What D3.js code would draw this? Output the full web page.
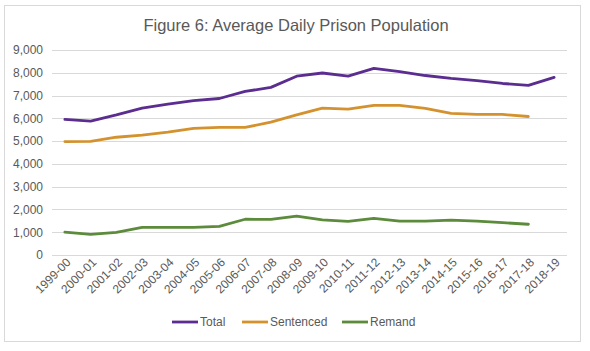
<!DOCTYPE html>
<html>
<head>
<meta charset="utf-8">
<script src="https://cdn.jsdelivr.net/npm/d3@7"></script>
<style>
  body { margin: 0; background: #fff; }
  text { font-family: "Liberation Sans", Arial, sans-serif; fill: #595959; }
</style>
</head>
<body>
<div id="chart"></div>
<script>
// financial years on the x axis
var years = ["1999-00","2000-01","2001-02","2002-03","2003-04","2004-05","2005-06","2006-07","2007-08","2008-09",
             "2009-10","2010-11","2011-12","2012-13","2013-14","2014-15","2015-16","2016-17","2017-18","2018-19"];

// average daily population
var total     = [5950,5880,6150,6450,6620,6780,6870,7180,7360,7850,7990,7850,8190,8050,7880,7750,7660,7530,7450,7800];
var sentenced = [4980,4990,5170,5260,5390,5560,5600,5600,5830,6150,6450,6400,6570,6570,6440,6220,6170,6170,6080];
var remand    = [1000,910,990,1210,1210,1210,1260,1570,1560,1710,1540,1480,1610,1490,1490,1530,1490,1420,1350];

var yTicks = [0,1000,2000,3000,4000,5000,6000,7000,8000,9000];

var series = [
  {name: "Total", values: total, color: "#5b2d90"},
  {name: "Sentenced", values: sentenced, color: "#d4922f"},
  {name: "Remand", values: remand, color: "#5b8b3b"}
];

var W = 590, H = 351;
var margin = {top: 50, right: 23, bottom: 96, left: 52};
var width = W - margin.left - margin.right,
    height = H - margin.top - margin.bottom;

var svg = d3.select("#chart").append("svg")
  .attr("width", W)
  .attr("height", H);

// outer chart border
svg.append("rect")
  .attr("x", 4.5).attr("y", 5.5)
  .attr("width", 576).attr("height", 336)
  .attr("fill", "#fff")
  .attr("stroke", "#d9d9d9");

svg.append("text")
  .attr("x", 296).attr("y", 31)
  .attr("text-anchor", "middle")
  .style("font-size", "16.5px")
  .text("Figure 6: Average Daily Prison Population");

var g = svg.append("g")
  .attr("transform", "translate(" + margin.left + "," + margin.top + ")");

var x = d3.scalePoint()
  .domain(years)
  .range([0, width])
  .padding(0.5);

var y = d3.scaleLinear()
  .domain([0, 9000])
  .range([height, 0]);

// gridlines
g.selectAll(".grid")
  .data(yTicks)
  .enter()
  .append("line")
  .attr("x1", 0).attr("x2", width)
  .attr("y1", d => Math.round(y(d)) + 0.5)
  .attr("y2", d => Math.round(y(d)) + 0.5)
  .attr("stroke", "#d9d9d9");

// y axis labels
var yAxis = d3.axisLeft(y).tickValues(yTicks).tickFormat(d3.format(",")).tickSize(0).tickPadding(9);
g.append("g")
  .call(yAxis)
  .call(a => a.select(".domain").remove())
  .selectAll("text")
  .style("font-size", "12px")
  .style("fill", "#595959")
  .attr("font-family", null);

// x axis labels
var xAxis = d3.axisBottom(x).tickSize(0).tickPadding(0);
g.append("g")
  .attr("transform", "translate(0," + height + ")")
  .call(xAxis)
  .call(a => a.select(".domain").remove())
  .selectAll("text")
  .style("font-size", "12px")
  .style("fill", "#595959")
  .attr("font-family", null)
  .attr("text-anchor", "end")
  .attr("dy", null)
  .attr("y", 0)
  .attr("transform", "translate(6,8) rotate(-45)");

var line = d3.line()
  .x((d, i) => x(years[i]))
  .y(d => y(d));

g.selectAll(".series")
  .data(series)
  .enter()
  .append("path")
  .attr("d", d => line(d.values))
  .attr("fill", "none")
  .attr("stroke", d => d.color)
  .attr("stroke-width", 2.8)
  .attr("stroke-linejoin", "round")
  .attr("stroke-linecap", "round");

// legend
var legendX = [172, 242, 342];
var legend = svg.selectAll(".legend")
  .data(series)
  .enter()
  .append("g")
  .attr("transform", (d, i) => "translate(" + legendX[i] + ",322)");

legend.append("line")
  .attr("x1", 0).attr("x2", 26)
  .attr("stroke", d => d.color)
  .attr("stroke-width", 2.8);

legend.append("text")
  .attr("x", 28).attr("y", 4)
  .style("font-size", "12px")
  .text(d => d.name);
</script>
</body>
</html>
